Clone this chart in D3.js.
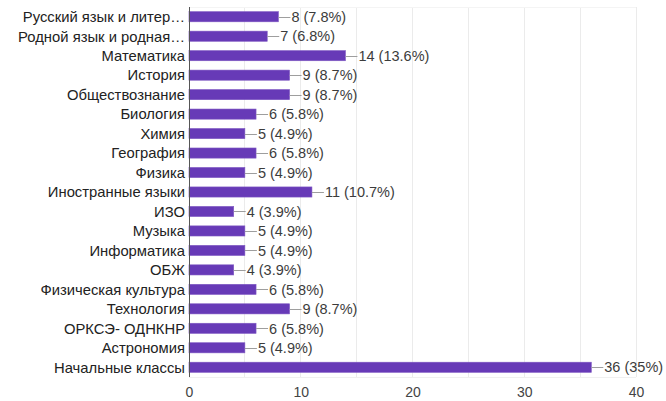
<!DOCTYPE html>
<html><head><meta charset="utf-8">
<script src="https://cdn.jsdelivr.net/npm/d3@7"></script>
<style>body{margin:0;background:#fff;}svg{display:block;}</style>
</head><body>
<svg id="c" width="666" height="401"></svg>
<script>
const categories = ["Русский язык и литер…","Родной язык и родная…","Математика","История","Обществознание","Биология","Химия","География","Физика","Иностранные языки","ИЗО","Музыка","Информатика","ОБЖ","Физическая культура","Технология","ОРКСЭ- ОДНКНР","Астрономия","Начальные классы"];
const values = [8,7,14,9,9,6,5,6,5,11,4,5,5,4,6,9,6,5,36];
const percents = ["7.8%","6.8%","13.6%","8.7%","8.7%","5.8%","4.9%","5.8%","4.9%","10.7%","3.9%","4.9%","4.9%","3.9%","5.8%","8.7%","5.8%","4.9%","35%"];
const gridTicks = [0,5,10,15,20,25,30,35,40];
const axisTicks = [0,10,20,30,40];

const svg = d3.select("#c");
const font = "Arial, 'Liberation Sans', sans-serif";
const x = d3.scaleLinear().domain([0,40]).range([189,636]);
const y = d3.scaleBand().domain(categories).range([7,377]).paddingInner(0.48).paddingOuter(0.24);

svg.append("g").selectAll("line").data(gridTicks).join("line")
  .attr("x1",d=>x(d)).attr("x2",d=>x(d)).attr("y1",7).attr("y2",377)
  .attr("stroke","#ebebeb").attr("stroke-width",1).attr("shape-rendering","crispEdges");
svg.append("line").attr("x1",189).attr("x2",636).attr("y1",377).attr("y2",377)
  .attr("stroke","#f0f0f0").attr("shape-rendering","crispEdges");
svg.append("line").attr("x1",189).attr("x2",636).attr("y1",7).attr("y2",7)
  .attr("stroke","#f4f4f4").attr("shape-rendering","crispEdges");

const rows = categories.map((c,i)=>({c, v:values[i], p:percents[i]}));
svg.append("g").selectAll("rect").data(rows).join("rect")
  .attr("x",x(0)).attr("y",d=>y(d.c)).attr("width",d=>x(d.v)-x(0)).attr("height",y.bandwidth())
  .attr("fill","#673ab7").attr("stroke","#7e57c2").attr("stroke-width",0.6);

svg.append("g").selectAll("line").data(rows).join("line")
  .attr("x1",d=>x(d.v)).attr("x2",d=>x(d.v)+12)
  .attr("y1",d=>Math.round(y(d.c)+y.bandwidth()/2)+0.5).attr("y2",d=>Math.round(y(d.c)+y.bandwidth()/2)+0.5)
  .attr("stroke","#9e9e9e").attr("stroke-width",1);

svg.append("g").selectAll("text").data(rows).join("text")
  .attr("x",d=>x(d.v)+13).attr("y",d=>y(d.c)+y.bandwidth()/2).attr("dy","0.36em")
  .attr("font-family",font).attr("font-size",14.5).attr("fill","#3c3c3c")
  .text(d=>`${d.v} (${d.p})`);

svg.append("g").selectAll("text").data(rows).join("text")
  .attr("x",185).attr("y",d=>y(d.c)+y.bandwidth()/2).attr("dy","0.36em")
  .attr("text-anchor","end").attr("font-family",font).attr("font-size",14.8).attr("fill","#222")
  .text(d=>d.c);

svg.append("line").attr("x1",189.5).attr("x2",189.5).attr("y1",7).attr("y2",377)
  .attr("stroke","#555").attr("stroke-width",1);

const ax = d3.axisBottom(x).tickValues(axisTicks).tickSize(0).tickPadding(0);
const g = svg.append("g").attr("transform","translate(0,387)").call(ax);
g.select(".domain").remove();
g.selectAll("text").attr("font-family",font).attr("font-size",14).attr("fill","#444").attr("dy","0.71em");
</script>
</body></html>
